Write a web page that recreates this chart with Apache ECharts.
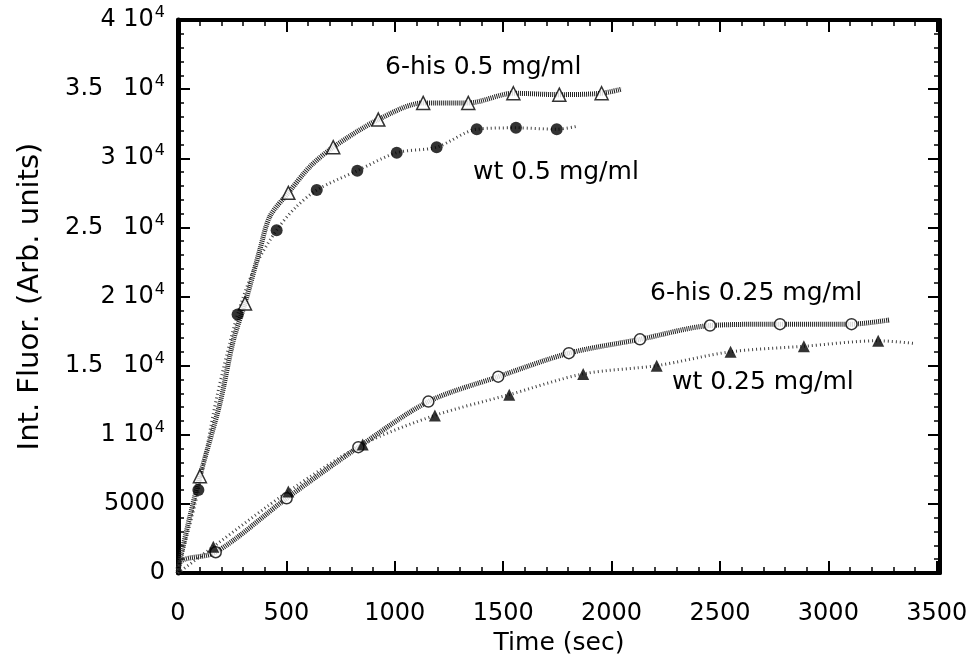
<!DOCTYPE html>
<html>
<head>
<meta charset="utf-8">
<script src="https://cdn.jsdelivr.net/npm/echarts@6/dist/echarts.min.js"></script>
<style>
  html, body { margin: 0; padding: 0; background: #fff; }
  #chart { width: 978px; height: 664px; }
</style>
</head>
<body>
<div id="chart"></div>
<script>
// time (sec), fluorescence (arb. units)
var his05Line = [[0, 300], [55, 4100], [101, 7000], [194, 12300], [255, 16800], [309, 19500], [378, 23400], [424, 25800], [509, 27500], [609, 29400], [716, 30800], [924, 32800], [1131, 34000], [1339, 34000], [1547, 34700], [1759, 34600], [1954, 34700], [2047, 35000]];
var his05Marks = [[101, 7000], [309, 19500], [509, 27500], [716, 30800], [924, 32800], [1131, 34000], [1339, 34000], [1547, 34700], [1759, 34600], [1954, 34700]];

var wt05Line = [[0, 200], [94, 6000], [180, 12800], [275, 18700], [360, 22300], [455, 24800], [540, 26400], [640, 27700], [827, 29100], [1009, 30400], [1193, 30800], [1378, 32100], [1559, 32200], [1747, 32100], [1839, 32300]];
var wt05Marks = [[94, 6000], [275, 18700], [455, 24800], [640, 27700], [827, 29100], [1009, 30400], [1193, 30800], [1378, 32100], [1559, 32200], [1747, 32100]];

var his025Line = [[0, 0], [17, 900], [174, 1500], [501, 5400], [832, 9100], [1155, 12400], [1477, 14200], [1803, 15900], [2131, 16900], [2454, 17900], [2777, 18000], [3107, 18000], [3280, 18300]];
var his025Marks = [[174, 1500], [501, 5400], [832, 9100], [1155, 12400], [1477, 14200], [1803, 15900], [2131, 16900], [2454, 17900], [2777, 18000], [3107, 18000]];

var wt025Line = [[0, 0], [163, 1900], [509, 5900], [852, 9300], [1185, 11400], [1528, 12900], [1869, 14400], [2208, 15000], [2549, 16000], [2887, 16400], [3230, 16800], [3400, 16600]];
var wt025Marks = [[163, 1900], [509, 5900], [852, 9300], [1185, 11400], [1528, 12900], [1869, 14400], [2208, 15000], [2549, 16000], [2887, 16400], [3230, 16800]];

var xTicks = [0, 500, 1000, 1500, 2000, 2500, 3000, 3500];
var yTickText = {0: '0', 5000: '5000', 10000: '1', 15000: '1.5', 20000: '2', 25000: '2.5', 30000: '3', 35000: '3.5', 40000: '4'};

var seriesLabels = [
  { text: '6-his 0.5 mg/ml', x: 385, y: 70 },
  { text: 'wt 0.5 mg/ml', x: 473, y: 175 },
  { text: '6-his 0.25 mg/ml', x: 650, y: 296 },
  { text: 'wt 0.25 mg/ml', x: 672, y: 385 }
];

var myChart = echarts.init(document.getElementById('chart'));
var font = 'DejaVu Sans';

var lineStyle = { color: '#000', width: 4 };
var tickStyle = { show: true, inside: true, length: 12, lineStyle: { color: '#000', width: 2 } };
var minorStyle = { show: true, splitNumber: 5, length: 6, lineStyle: { color: '#000', width: 1.5 } };

function yLabel(v) {
  var t = yTickText[v];
  if (v === 0 || v === 5000) return '{n|' + t + '}';
  if (t.indexOf('.') > 0) return '{n|' + t + '}{gap|}{n|10}{s|4}';
  return '{n|' + t + ' 10}{s|4}';
}

var option = {
  animation: false,
  backgroundColor: '#fff',
  grid: { left: 178, right: 38, top: 20, bottom: 91, show: false },
  xAxis: [{
    type: 'value', min: 0, max: 3515, interval: 500,
    name: 'Time (sec)', nameLocation: 'middle', nameGap: 57,
    nameTextStyle: { fontFamily: font, fontSize: 25, color: '#000' },
    axisLine: { onZero: false, lineStyle: lineStyle },
    axisTick: tickStyle, minorTick: minorStyle,
    splitLine: { show: false },
    axisLabel: {
      margin: 29, fontFamily: font, fontSize: 24, color: '#000', showMaxLabel: false,
      formatter: function (v) { return xTicks.indexOf(v) >= 0 ? String(v) : ''; }
    }
  }, {
    type: 'value', position: 'top', min: 0, max: 3515, interval: 500,
    axisLine: { onZero: false, lineStyle: lineStyle },
    axisTick: tickStyle, minorTick: minorStyle,
    splitLine: { show: false }, axisLabel: { show: false }
  }],
  yAxis: [{
    type: 'value', min: 0, max: 40000, interval: 5000,
    name: 'Int. Fluor. (Arb. units)', nameLocation: 'middle', nameGap: 133,
    nameTextStyle: { fontFamily: font, fontSize: 29, color: '#000' },
    axisLine: { onZero: false, lineStyle: { color: '#000', width: 5 } },
    axisTick: tickStyle, minorTick: minorStyle,
    splitLine: { show: false },
    axisLabel: {
      margin: 13, color: '#000', formatter: yLabel,
      rich: {
        n: { fontFamily: font, fontSize: 24, color: '#000' },
        gap: { width: 20 },
        s: { fontFamily: font, fontSize: 16, color: '#000', verticalAlign: 'top', padding: [0, 0, 14, 1] }
      }
    }
  }, {
    type: 'value', position: 'right', min: 0, max: 40000, interval: 5000,
    axisLine: { onZero: false, lineStyle: lineStyle },
    axisTick: tickStyle, minorTick: minorStyle,
    splitLine: { show: false }, axisLabel: { show: false }
  }],
  graphic: seriesLabels.map(function (l) {
    return {
      type: 'text', left: l.x, top: l.y - 15,
      style: { text: l.text, font: '25px "DejaVu Sans"', fill: '#000' }
    };
  }),
  series: [
    { name: '6-his 0.5 line', type: 'line', data: his05Line, showSymbol: false, smooth: 0.3,
      lineStyle: { color: '#222', width: 5, type: [1, 1] }, z: 2 },
    { name: 'wt 0.5 line', type: 'line', data: wt05Line, showSymbol: false, smooth: 0.3,
      lineStyle: { color: '#444', width: 3, type: [1, 3] }, z: 2 },
    { name: '6-his 0.25 line', type: 'line', data: his025Line, showSymbol: false, smooth: 0.3,
      lineStyle: { color: '#222', width: 5, type: [1, 1] }, z: 2 },
    { name: 'wt 0.25 line', type: 'line', data: wt025Line, showSymbol: false, smooth: 0.3,
      lineStyle: { color: '#444', width: 3, type: [1, 3] }, z: 2 },
    { name: '6-his 0.5', type: 'scatter', data: his05Marks, symbol: 'triangle', symbolSize: 13,
      itemStyle: { color: '#fff', borderColor: '#000', borderWidth: 1.5 }, z: 5 },
    { name: 'wt 0.5', type: 'scatter', data: wt05Marks, symbol: 'circle', symbolSize: 12,
      itemStyle: { color: '#000' }, z: 5 },
    { name: '6-his 0.25', type: 'scatter', data: his025Marks, symbol: 'circle', symbolSize: 11,
      itemStyle: { color: '#fff', borderColor: '#000', borderWidth: 1.5 }, z: 5 },
    { name: 'wt 0.25', type: 'scatter', data: wt025Marks, symbol: 'triangle', symbolSize: 12,
      itemStyle: { color: '#000' }, z: 5 }
  ]
};

myChart.setOption(option);
</script>
</body>
</html>
